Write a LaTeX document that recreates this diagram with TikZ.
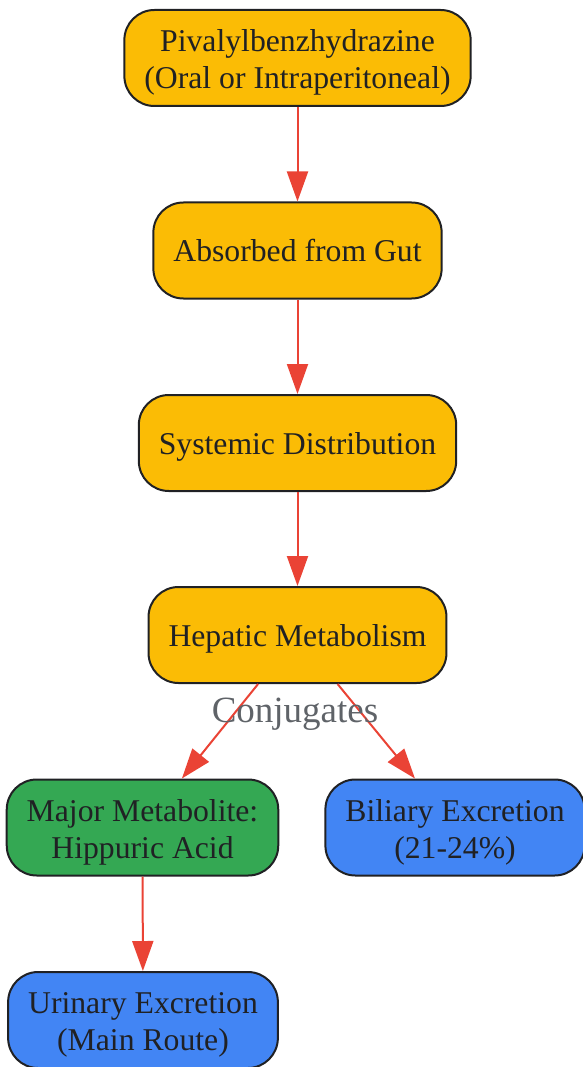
\documentclass[tikz,border=0pt]{standalone}
\usepackage{fontspec}
\setmainfont{Liberation Serif}
\usetikzlibrary{arrows.meta}
\definecolor{cOrange}{HTML}{FBBC05}
\definecolor{cGreen}{HTML}{34A853}
\definecolor{cBlue}{HTML}{4285F4}
\definecolor{cRed}{HTML}{EA4335}
\definecolor{cText}{HTML}{202124}
\definecolor{cGray}{HTML}{5F6368}
\tikzset{
  box/.style={draw=cText, line width=2pt, rounded corners=30pt, minimum height=96pt,
    inner xsep=20pt, align=center, text=cText, text depth=0pt,
    font=\fontsize{31.7}{37}\selectfont},
  twoline/.style={text height=61pt},
  orangebox/.style={box, fill=cOrange},
  greenbox/.style={box, fill=cGreen},
  bluebox/.style={box, fill=cBlue},
  flow/.style={draw=cRed, line width=2pt, -{Triangle[length=30pt,width=21pt]}},
  edgelabel/.style={text=cGray, font=\fontsize{37}{40}\selectfont}
}
\begin{document}
\begin{tikzpicture}[x=1pt,y=-1pt]
\useasboundingbox (0,0) rectangle (582,1067);
\node[orangebox, twoline] (piv) at (297.5,58) {Pivalylbenzhydrazine\\(Oral or Intraperitoneal)};
\node[orangebox] (abs) at (297.5,250.5) {Absorbed from Gut};
\node[orangebox] (sys) at (297.5,443) {Systemic Distribution};
\node[orangebox] (hep) at (297.5,635) {Hepatic Metabolism};
\node[greenbox, twoline] (maj) at (142.5,827.5) {Major Metabolite:\\Hippuric Acid};
\node[bluebox, twoline] (bil) at (455,827.5) {Biliary Excretion\\(21-24\%)};
\node[bluebox, twoline] (uri) at (143,1020) {Urinary Excretion\\(Main Route)};
\draw[flow] (piv) -- (abs);
\draw[flow] (abs) -- (sys);
\draw[flow] (sys) -- (hep);
\draw[flow] (hep) -- (maj);
\draw[flow] (hep) -- (bil);
\draw[flow] (maj) -- (uri);
\node[edgelabel] (conj) at (295,714) {Conjugates};
\end{tikzpicture}
\end{document}
